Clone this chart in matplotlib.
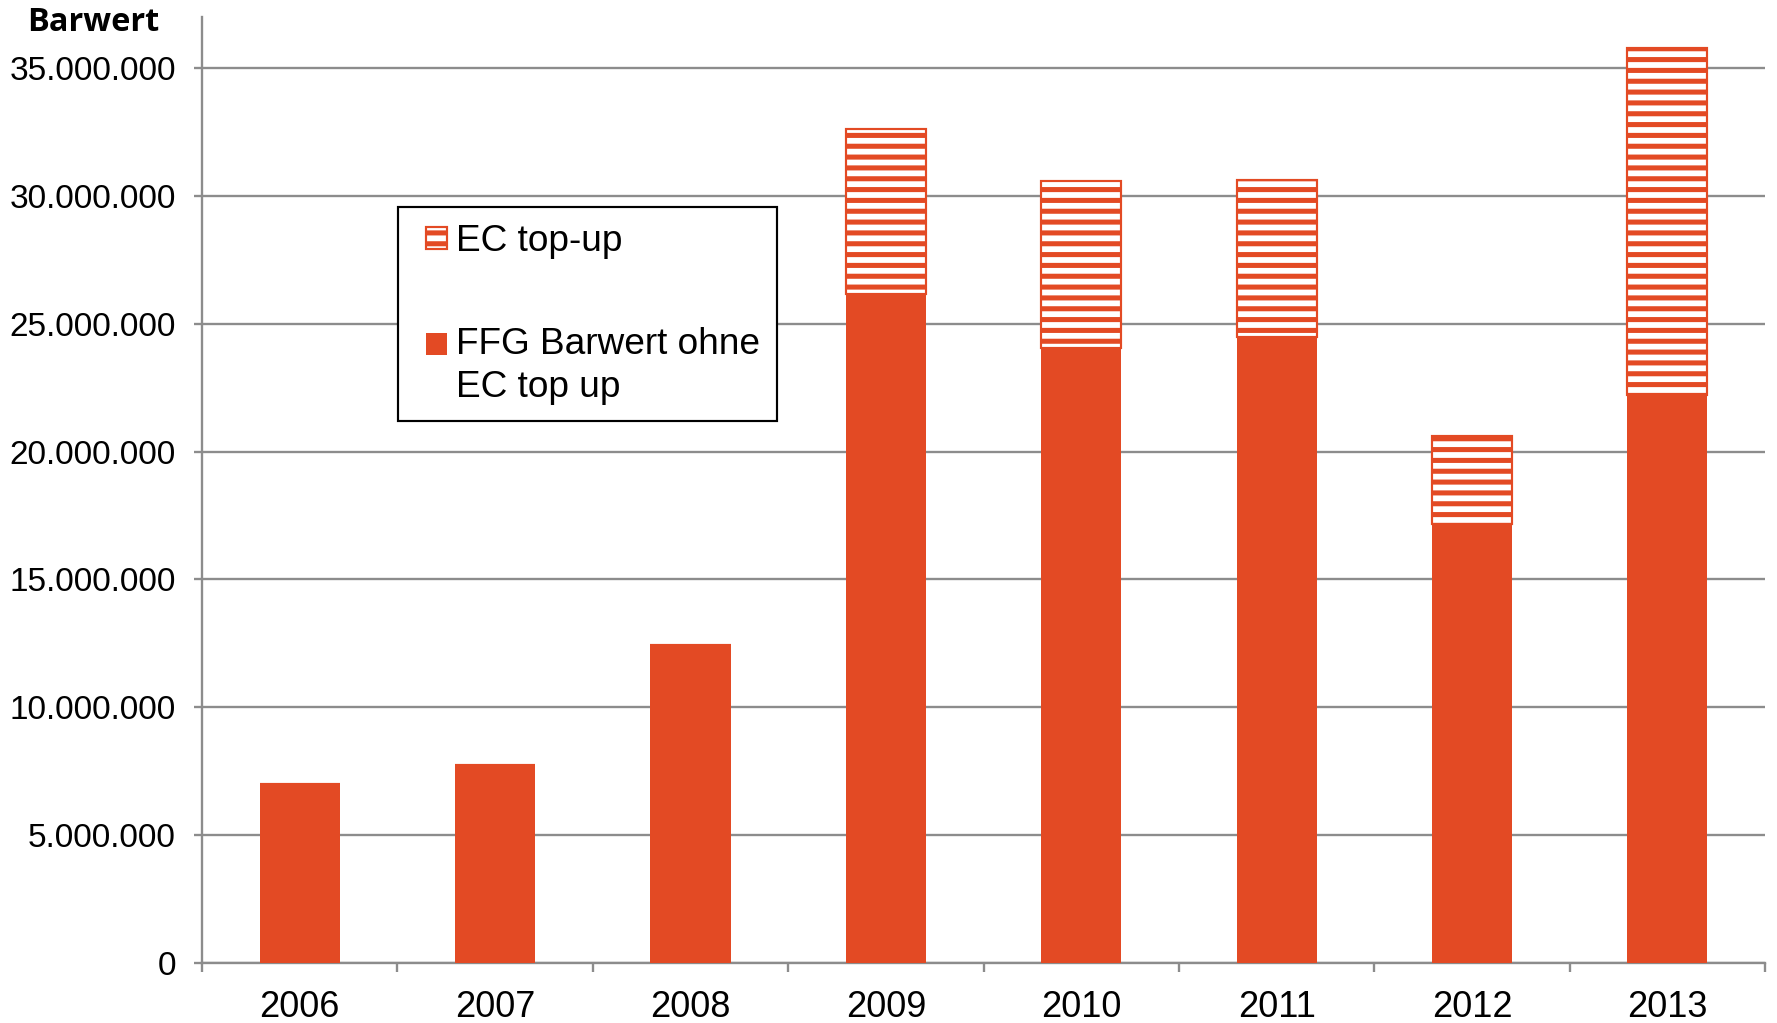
import matplotlib.pyplot as plt
from matplotlib.patches import Rectangle
from matplotlib.legend_handler import HandlerPatch, update_from_first_child
from matplotlib.ticker import FuncFormatter, FixedLocator

# Daten
jahre = ["2006", "2007", "2008", "2009", "2010", "2011", "2012", "2013"]
ffg_ohne_ec = [7000000, 7750000, 12450000, 26150000, 24050000, 24500000, 17150000, 22200000]
gesamt = [7000000, 7750000, 12450000, 32600000, 30600000, 30630000, 20600000, 35800000]
ec_top_up = [g - f for g, f in zip(gesamt, ffg_ohne_ec)]

rot = "#E34A24"
grau = "#8C8C8C"

plt.rcParams["font.family"] = ["Liberation Sans", "DejaVu Sans"]
plt.rcParams["hatch.linewidth"] = 2.8
plt.rcParams["hatch.color"] = rot

fig = plt.figure(figsize=(1777 / 130, 1023 / 130), dpi=130)
ax = fig.add_axes([0.1137, 0.0587, 0.8796, 0.9247])

x = list(range(len(jahre)))
b1 = ax.bar(x, ffg_ohne_ec, width=0.41, color=rot, zorder=3,
            label="FFG Barwert ohne\nEC top up")
b2 = ax.bar(x, ec_top_up, bottom=ffg_ohne_ec, width=0.41, facecolor="white",
            edgecolor=rot, hatch="--", linewidth=1.2, zorder=3, label="EC top-up")

ax.set_xlim(-0.5, len(jahre) - 0.5)
ax.set_ylim(0, 37000000)
ax.set_yticks(range(0, 35000001, 5000000))
ax.yaxis.set_major_formatter(FuncFormatter(lambda v, p: f"{int(v):,}".replace(",", ".")))
ax.yaxis.grid(True, color=grau, linewidth=1.3, zorder=0)

# Kategorien-Beschriftung mittig, Ticks an den Grenzen
ax.set_xticks(x)
ax.set_xticklabels(jahre)
ax.tick_params(axis="x", which="major", length=0, labelsize=20, pad=15)
ax.xaxis.set_minor_locator(FixedLocator([i - 0.5 for i in range(len(jahre) + 1)]))
ax.tick_params(axis="x", which="minor", length=5, width=1.3, color=grau, direction="out")
ax.tick_params(axis="y", length=4.5, width=1.3, color=grau, labelsize=18.5, pad=10)

for s in ["top", "right"]:
    ax.spines[s].set_visible(False)
for s in ["left", "bottom"]:
    ax.spines[s].set_color(grau)
    ax.spines[s].set_linewidth(1.3)

fig.text(0.0525, 0.978, "Barwert", fontsize=18, fontweight="bold", ha="center", va="center",
         family=["Open Sans", "DejaVu Sans"])


# Legendensymbol etwas eingerückt, optional auf Höhe der ersten Textzeile
def symbol(hoch):
    def f(legend, orig_handle, xdescent, ydescent, width, height, fontsize):
        return Rectangle((-xdescent + 0.31 * fontsize, -ydescent + hoch * fontsize),
                         0.55 * fontsize, height)
    return f


leg = ax.legend(handles=[b2, b1], loc="upper left", bbox_to_anchor=(0.1255, 0.799),
                borderaxespad=0, fontsize=20.5, frameon=True, fancybox=False,
                edgecolor="black", handlelength=0.86, handleheight=0.55,
                handletextpad=0.25, labelspacing=1.85, borderpad=0.45,
                handler_map={
                    b2: HandlerPatch(patch_func=symbol(0), update_func=update_from_first_child),
                    b1: HandlerPatch(patch_func=symbol(0.6), update_func=update_from_first_child),
                })
for t in leg.get_texts():
    t.set_linespacing(1.27)
leg.get_frame().set_linewidth(1.2)
leg.get_frame().set_alpha(1)

fig.savefig("out.png", dpi=130)
